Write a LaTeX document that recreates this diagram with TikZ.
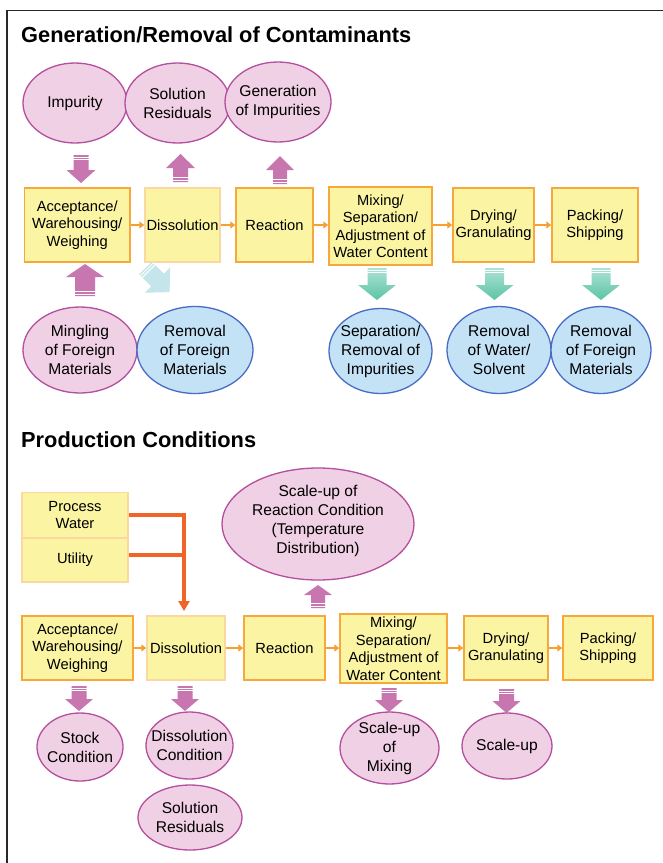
\documentclass[tikz,border=0pt]{standalone}
\usepackage{fontspec}
\setmainfont{Liberation Sans}
\usetikzlibrary{arrows.meta,shapes.geometric}
\definecolor{boxfill}{RGB}{250,244,163}
\definecolor{boxline}{RGB}{247,168,60}
\definecolor{boxpale}{RGB}{251,216,160}
\definecolor{pinkfill}{RGB}{240,208,228}
\definecolor{pinkline}{RGB}{180,78,158}
\definecolor{bluefill}{RGB}{196,226,246}
\definecolor{blueline}{RGB}{72,108,196}
\definecolor{pinkarr}{RGB}{200,118,176}
\definecolor{tealD}{RGB}{92,196,165}
\definecolor{tealL}{RGB}{172,226,212}
\definecolor{cyanarr}{RGB}{196,229,234}
\definecolor{flowor}{RGB}{247,160,50}
\definecolor{thickor}{RGB}{240,100,40}
\definecolor{framecol}{RGB}{40,40,40}
% #1 x, #2 tail y, #3 dir (1 down, (-1) up), #4 length, #5 half shaft, #6 half head, #7 head length, #8 fill options
\newcommand{\myvarrow}[8]{%
  \path[#8] ({#1-#5},{#2}) -- ({#1-#5},{#2+#3*(#4-#7)}) -- ({#1-#6},{#2+#3*(#4-#7)}) -- ({#1},{#2+#3*#4})
     -- ({#1+#6},{#2+#3*(#4-#7)}) -- ({#1+#5},{#2+#3*(#4-#7)}) -- ({#1+#5},{#2}) -- cycle;
  \draw[white,line width=0.9pt] ({#1-#5-0.5},{#2+#3*2}) -- ({#1+#5+0.5},{#2+#3*2});
  \draw[white,line width=0.9pt] ({#1-#5-0.5},{#2+#3*4.5}) -- ({#1+#5+0.5},{#2+#3*4.5});
}
\tikzset{
  procbox/.style={draw=boxline, fill=boxfill, line width=1.4pt, rectangle, inner sep=0pt, align=center,
    font=\fontsize{14.7}{17.5}\selectfont},
  palebox/.style={procbox, draw=boxpale},
  pinkell/.style={ellipse, draw=pinkline, fill=pinkfill, line width=1.3pt, inner sep=0pt},
  blueell/.style={ellipse, draw=blueline, fill=bluefill, line width=1.3pt, inner sep=0pt},
  elltext/.style={align=center, inner sep=0pt, font=\fontsize{15.6}{19}\selectfont},
  flow/.style={draw=flowor, line width=1.8pt, -{Triangle[length=5pt,width=7pt]}},
  feed/.style={draw=thickor, line width=4pt, line join=miter},
  title/.style={anchor=base west, inner sep=0pt, font=\fontsize{21.8}{26}\selectfont\bfseries},
  pinkfillA/.style={fill=pinkarr},
  tealfill/.style={top color=tealL, bottom color=tealD},
}
\begin{document}
\begin{tikzpicture}[x=1pt,y=-1pt]
\useasboundingbox (0,0) rectangle (663,863);
\fill[white] (0,0) rectangle (663,863);
\draw[framecol, line width=1.5pt] (7,863) -- (7,10.5) -- (663,10.5);

% ---------- Section 1 ----------
\node[title] (t1) at (21,42) {Generation/Removal of Contaminants};

\node[pinkell, minimum width=104pt, minimum height=80pt] (e1) at (75,103) {};
\node[elltext] (e1t) at (e1) {Impurity};
\node[pinkell, minimum width=105pt, minimum height=80pt] (e2) at (177.5,103) {};
\node[elltext] (e2t) at (e2) {Solution\\Residuals};
\node[pinkell, minimum width=106pt, minimum height=80pt] (e3) at (278,102) {};
\node[elltext] (e3t) at (e3) {Generation\\of Impurities};

\node[procbox, minimum width=105.5pt, minimum height=74pt] (a1) at (77.25,225) {Acceptance/\\Warehousing/\\Weighing};
\node[palebox, minimum width=75pt, minimum height=74pt] (d1) at (182.5,225) {Dissolution};
\node[procbox, minimum width=77pt, minimum height=74pt] (r1) at (274.5,225) {Reaction};
\node[procbox, minimum width=103pt, minimum height=78pt] (m1) at (380.5,226) {Mixing/\\Separation/\\Adjustment of\\Water Content};
\node[procbox, minimum width=81pt, minimum height=74pt] (dr1) at (493.5,225) {Drying/\\Granulating};
\node[procbox, minimum width=86pt, minimum height=74pt] (p1) at (595,225) {Packing/\\Shipping};

\draw[flow] (a1.east) -- (d1.west);
\draw[flow] (d1.east) -- (r1.west);
\draw[flow] (r1.east) -- (r1.east -| m1.west);
\draw[flow] (m1.east |- dr1.west) -- (dr1.west);
\draw[flow] (dr1.east) -- (p1.west);

\myvarrow{81}{155}{1}{28}{7.5}{14.5}{13}{pinkfillA}
\myvarrow{180.5}{182}{(-1)}{28}{7.5}{14.5}{14}{pinkfillA}
\myvarrow{280}{184}{(-1)}{28}{7}{14}{14}{pinkfillA}
\myvarrow{85}{296}{(-1)}{32}{10}{19}{13}{pinkfillA}
\myvarrow{377}{268}{1}{32}{9.5}{19}{15}{tealfill}
\myvarrow{494.5}{268}{1}{32}{9.5}{19}{15}{tealfill}
\myvarrow{601}{268}{1}{32}{9.5}{19}{15}{tealfill}

\begin{scope}[shift={(145.5,268)}, rotate=-135]
  \fill[cyanarr] (-9,0) -- (-9,-17) -- (-18,-17) -- (0,-34) -- (18,-17) -- (9,-17) -- (9,0) -- cycle;
  \draw[white,line width=0.9pt] (-9.5,-2) -- (9.5,-2);
  \draw[white,line width=0.9pt] (-9.5,-4.5) -- (9.5,-4.5);
\end{scope}

\node[pinkell, minimum width=114pt, minimum height=86pt] (e4) at (80,350) {};
\node[elltext] (e4t) at (e4) {Mingling\\of Foreign\\Materials};
\node[blueell, minimum width=116pt, minimum height=87pt] (e5) at (195,350) {};
\node[elltext] (e5t) at (e5) {Removal\\of Foreign\\Materials};
\node[blueell, minimum width=103pt, minimum height=85pt] (e6) at (380.5,351) {};
\node[elltext] (e6t) at (e6) {Separation/\\Removal of\\Impurities};
\node[blueell, minimum width=104pt, minimum height=87pt] (e7) at (499,350) {};
\node[elltext] (e7t) at (e7) {Removal\\of Water/\\Solvent};
\node[blueell, minimum width=100pt, minimum height=87pt] (e8) at (601,350) {};
\node[elltext] (e8t) at (e8) {Removal\\of Foreign\\Materials};

% ---------- Section 2 ----------
\node[title] (t2) at (21,447) {Production Conditions};

\node[palebox, minimum width=106pt, minimum height=45pt] (pw) at (75,515) {Process\\Water};
\node[palebox, minimum width=106pt, minimum height=44pt] (ut) at (75,560) {Utility};

\node[pinkell, minimum width=192pt, minimum height=112pt] (s1) at (318,524) {};
\node[elltext] (s1t) at (318,521) {Scale-up of\\Reaction Condition\\(Temperature\\Distribution)};

\node[procbox, minimum width=111pt, minimum height=64pt] (a2) at (77.5,648) {Acceptance/\\Warehousing/\\Weighing};
\node[palebox, minimum width=78pt, minimum height=64pt] (d2) at (186,648) {Dissolution};
\node[procbox, minimum width=81pt, minimum height=64pt] (r2) at (284.5,648) {Reaction};
\node[procbox, minimum width=107pt, minimum height=69pt] (m2) at (393.5,648.5) {Mixing/\\Separation/\\Adjustment of\\Water Content};
\node[procbox, minimum width=84pt, minimum height=64pt] (dr2) at (506,648) {Drying/\\Granulating};
\node[procbox, minimum width=90pt, minimum height=64pt] (p2) at (608,648) {Packing/\\Shipping};

\draw[flow] (a2.east) -- (d2.west);
\draw[flow] (d2.east) -- (r2.west);
\draw[flow] (r2.east) -- (r2.east -| m2.west);
\draw[flow] (m2.east |- dr2.west) -- (dr2.west);
\draw[flow] (dr2.east) -- (p2.west);

\coordinate (jx) at (184,515);
\coordinate (ju) at (184,555);
\coordinate (jb) at (184,611);
\draw[feed, -{Triangle[length=10pt,width=11pt]}] (pw.east) -- (jx) -- (jb);
\draw[feed] (ut.east |- ju) -- (ju);

\myvarrow{318}{608}{(-1)}{23}{7}{14}{10}{pinkfillA}
\myvarrow{79}{686}{1}{25}{7.5}{14}{12}{pinkfillA}
\myvarrow{185}{686}{1}{25}{7.5}{14}{12}{pinkfillA}
\myvarrow{389}{688}{1}{24}{7.5}{14}{12}{pinkfillA}
\myvarrow{506.5}{689}{1}{24}{7.5}{14}{12}{pinkfillA}

\node[pinkell, minimum width=86pt, minimum height=68pt] (s2) at (80,747) {};
\node[elltext] (s2t) at (s2) {Stock\\Condition};
\node[pinkell, minimum width=87pt, minimum height=67pt] (s3) at (189.5,745.5) {};
\node[elltext] (s3t) at (s3) {Dissolution\\Condition};
\node[pinkell, minimum width=104pt, minimum height=65pt] (s4) at (190,817.5) {};
\node[elltext] (s4t) at (s4) {Solution\\Residuals};
\node[pinkell, minimum width=99pt, minimum height=72pt] (s5) at (389.5,748) {};
\node[elltext] (s5t) at (s5) {Scale-up\\of\\Mixing};
\node[pinkell, minimum width=90pt, minimum height=66pt] (s6) at (507,746) {};
\node[elltext] (s6t) at (s6) {Scale-up};
\end{tikzpicture}
\end{document}
